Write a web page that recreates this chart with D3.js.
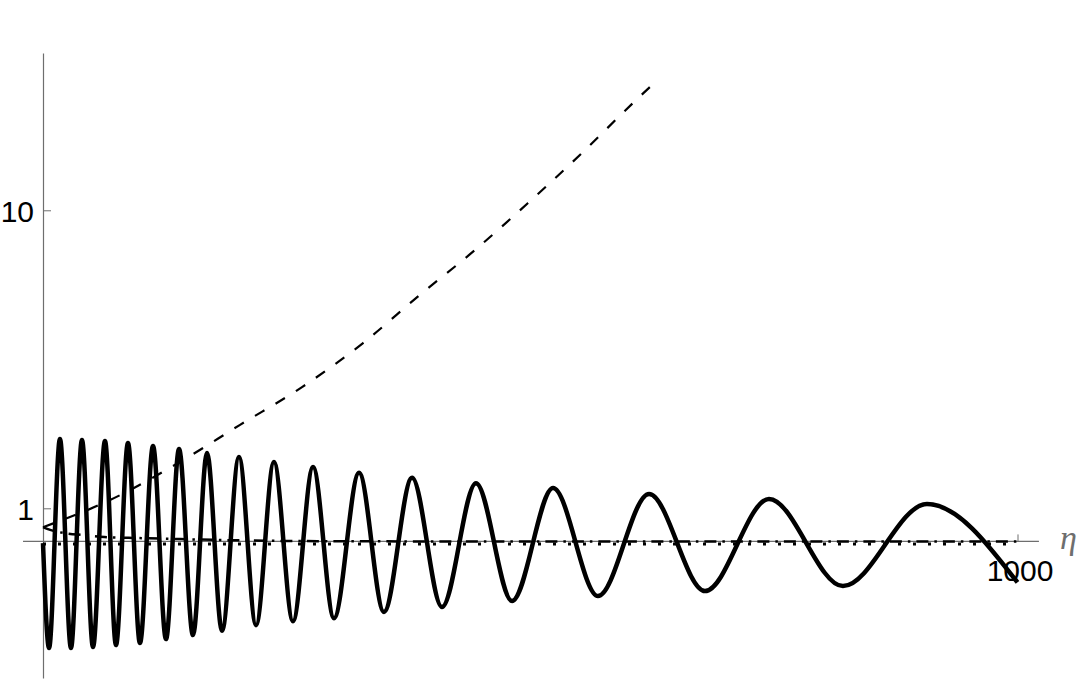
<!DOCTYPE html>
<html><head><meta charset="utf-8">
<script src="https://cdn.jsdelivr.net/npm/d3@7"></script>
<style>body{margin:0;background:#fff}svg{display:block}</style>
</head><body><svg id="c" width="1080" height="682"></svg>
<script>
// ---- data ----
const xTicks = [1000];
const yTicks = [1, 10];
const xLabel = "η";

// oscillating solid curve: start, alternating troughs/peaks, end
const oscX = [0, 6.2, 17.4, 28.7, 40.0, 51.3, 63.6, 74.9, 87.2, 99.5, 112.9, 126.2, 139.6, 153.9, 168.3, 183.7, 201.1, 218.6, 237.0, 256.5, 277.1, 298.6, 324.3, 349.9, 378.7, 409.4, 444.3, 481.3, 523.4, 569.5, 621.9, 679.3, 745.0, 820.9, 907.1, 1000];
const oscY = [-0.05, -3.22, 3.09, -3.22, 3.06, -3.19, 3.03, -3.13, 2.97, -3.07, 2.88, -2.95, 2.79, -2.83, 2.67, -2.70, 2.55, -2.53, 2.40, -2.41, 2.25, -2.32, 2.07, -2.13, 1.92, -1.98, 1.76, -1.80, 1.61, -1.65, 1.43, -1.50, 1.28, -1.35, 1.13, -1.24];

// dashed rising curve
const dashX = [0, 68.8, 140.6, 202.2, 265.8, 328.4, 386.9, 443.3, 497.7, 553.1, 605.4, 624.9];
const dashY = [0.43, 1.25, 2.40, 3.52, 4.66, 5.99, 7.45, 8.80, 10.22, 11.73, 13.24, 13.78];

// dot-dashed curve decaying onto the axis
const ddX = [0, 5, 22, 43, 63, 99, 140, 187, 264, 400, 1000];
const ddY = [0.43, 0.37, 0.25, 0.19, 0.13, 0.10, 0.07, 0.04, 0.01, 0.0, 0.0];

// dotted flat curve just below the axis
const dotX = [0, 1000];
const dotY = [-0.08, -0.08];

const xAxisExtent = [-20.5, 1022];

// ---- drawing ----
const svg = d3.select("#c");
svg.append("rect").attr("width",1080).attr("height",682).attr("fill","#fff");

const x = d3.scaleLinear().domain([0, 1000]).range([43, 1017.5]);
const y = d3.scaleLinear().domain([-4.125, 14.75]).range([678, 53]);

const axisCol = "#6e6e6e";
const font = "'Liberation Sans', Arial, sans-serif";

// y axis
const gy = svg.append("g").attr("transform", `translate(${x(0)},0)`)
  .call(d3.axisLeft(y).tickValues(yTicks).tickFormat(d3.format("d"))
        .tickSizeInner(-8).tickSizeOuter(0).tickPadding(9));
gy.select(".domain").attr("stroke", axisCol).attr("stroke-width", 1.2);
gy.selectAll(".tick line").attr("stroke", axisCol).attr("stroke-width", 1);
gy.selectAll(".tick text").attr("font-family", font).attr("font-size", 30)
  .attr("fill", "#000").attr("dy", "0.38em");

// x axis
svg.append("line")
  .attr("x1", x(xAxisExtent[0])).attr("x2", x(xAxisExtent[1]))
  .attr("y1", y(0)).attr("y2", y(0))
  .attr("stroke", axisCol).attr("stroke-width", 1.2);
const gx = svg.append("g").attr("transform", `translate(0,${y(0)})`)
  .call(d3.axisBottom(x).tickValues(xTicks).tickFormat(d3.format("d"))
        .tickSizeInner(-7).tickSizeOuter(0).tickPadding(18));
gx.select(".domain").remove();
gx.selectAll(".tick line").attr("stroke", axisCol).attr("stroke-width", 1);
gx.selectAll(".tick text").attr("font-family", font).attr("font-size", 30)
  .attr("fill", "#000").attr("dx", 2);

svg.append("text").attr("x", x(xAxisExtent[1]) + 21).attr("y", y(0) + 8)
  .attr("font-family", "'Liberation Serif', 'DejaVu Serif', serif")
  .attr("font-style", "italic").attr("font-size", 34).attr("fill", "#6e6e6e")
  .text(xLabel);

const line = d3.line().x(d => x(d[0])).y(d => y(d[1]));
const zip = (a, b) => a.map((v, i) => [v, b[i]]);

// dotted
svg.append("path").datum(zip(dotX, dotY))
  .attr("d", line.curve(d3.curveLinear))
  .attr("fill", "none").attr("stroke", "#000").attr("stroke-width", 3)
  .attr("stroke-dasharray", "3,12");

// dot-dashed
svg.append("path").datum(zip(ddX, ddY))
  .attr("d", line.curve(d3.curveMonotoneX))
  .attr("fill", "none").attr("stroke", "#000").attr("stroke-width", 2.5)
  .attr("stroke-dasharray", "12,6,2.5,6");

// dashed
svg.append("path").datum(zip(dashX, dashY))
  .attr("d", line.curve(d3.curveMonotoneX))
  .attr("fill", "none").attr("stroke", "#000").attr("stroke-width", 2.2)
  .attr("stroke-dasharray", "11,13");

// oscillating solid
svg.append("path").datum(zip(oscX, oscY))
  .attr("d", line.curve(d3.curveMonotoneX))
  .attr("fill", "none").attr("stroke", "#000").attr("stroke-width", 4.5)
  .attr("stroke-linejoin", "round");
</script>
</body></html>
